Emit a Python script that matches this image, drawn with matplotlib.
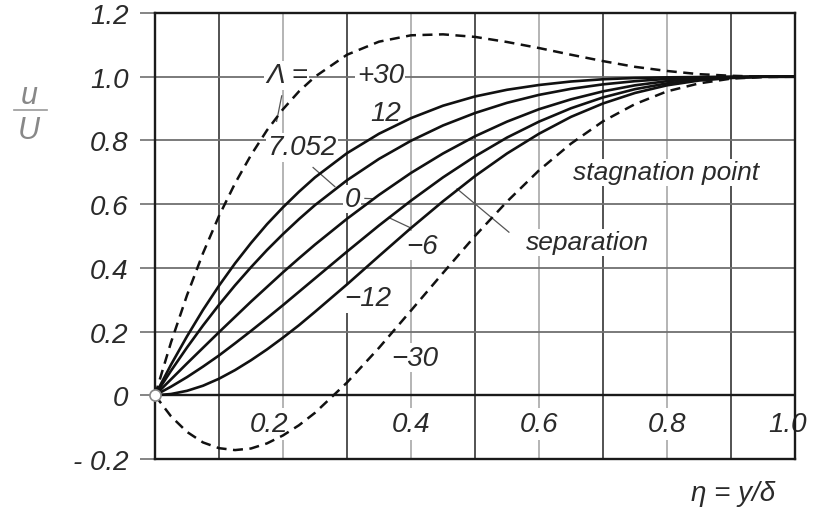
import matplotlib
matplotlib.use('Agg')
import matplotlib.pyplot as plt
from matplotlib.lines import Line2D

plt.rcParams['font.family'] = ['Liberation Sans', 'DejaVu Sans']
plt.rcParams['font.style'] = 'italic'

# eta = y/delta (denser near the wall where the profiles bend most)
eta = [0.000, 0.025, 0.050, 0.075, 0.100, 0.125, 0.150, 0.175, 0.200, 0.225, 0.250,
       0.30, 0.35, 0.40, 0.45, 0.50, 0.55, 0.60, 0.65, 0.70, 0.75, 0.80, 0.85,
       0.90, 0.95, 1.00]

# u/U, one list per Lambda
u_p30 = [0.000, 0.166, 0.314, 0.446, 0.563, 0.665, 0.754, 0.832, 0.898, 0.954, 1.000,
         1.069, 1.110, 1.130, 1.133, 1.125, 1.109, 1.090, 1.069, 1.049, 1.031, 1.018, 1.008,
         1.003, 1.000, 1.000]
u_p12 = [0.000, 0.096, 0.185, 0.268, 0.344, 0.414, 0.478, 0.537, 0.590, 0.639, 0.684,
         0.760, 0.821, 0.870, 0.909, 0.938, 0.959, 0.974, 0.985, 0.992, 0.996, 0.998, 0.999,
         1.000, 1.000, 1.000]
u_p7052 = [0.000, 0.077, 0.150, 0.219, 0.284, 0.345, 0.402, 0.456, 0.506, 0.553, 0.597,
           0.675, 0.742, 0.799, 0.847, 0.886, 0.918, 0.943, 0.962, 0.976, 0.986, 0.993, 0.997,
           0.999, 1.000, 1.000]
u_0 = [0.000, 0.050, 0.100, 0.149, 0.198, 0.246, 0.294, 0.340, 0.386, 0.430, 0.473,
       0.554, 0.629, 0.698, 0.759, 0.813, 0.859, 0.898, 0.929, 0.954, 0.973, 0.986, 0.994,
       0.998, 1.000, 1.000]
u_m6 = [0.000, 0.027, 0.057, 0.090, 0.125, 0.163, 0.202, 0.242, 0.283, 0.325, 0.367,
        0.451, 0.533, 0.611, 0.684, 0.750, 0.809, 0.859, 0.901, 0.935, 0.961, 0.979, 0.991,
        0.997, 1.000, 1.000]
u_m12 = [0.000, 0.004, 0.014, 0.030, 0.052, 0.079, 0.110, 0.144, 0.181, 0.220, 0.262,
         0.348, 0.437, 0.525, 0.609, 0.688, 0.759, 0.821, 0.874, 0.916, 0.949, 0.973, 0.988,
         0.996, 1.000, 1.000]
u_m30 = [0.000, -0.066, -0.115, -0.148, -0.166, -0.172, -0.167, -0.151, -0.126, -0.094, -0.055,
         0.040, 0.149, 0.266, 0.384, 0.500, 0.608, 0.706, 0.790, 0.860, 0.914, 0.954, 0.979,
         0.994, 0.999, 1.000]

solid_curves = [u_p12, u_p7052, u_0, u_m6, u_m12]
dashed_curves = [u_p30, u_m30]

yticks = [-0.2, 0.0, 0.2, 0.4, 0.6, 0.8, 1.0, 1.2]
ytick_labels = ['- 0.2', '0', '0.2', '0.4', '0.6', '0.8', '1.0', '1.2']
xtick_vals = [0.2, 0.4, 0.6, 0.8, 1.0]
xtick_labels = ['0.2', '0.4', '0.6', '0.8', '1.0']

txtc = '#2a2a2a'
fig = plt.figure(figsize=(8.13, 5.10), dpi=100)
ax = fig.add_axes([155/813, 1-460/510, 640/813, 446/510])
ax.set_xlim(0, 1)
ax.set_ylim(-0.2, 1.2)

# grid
for i in range(1, 10):
    x = i / 10
    if i % 2:
        ax.axvline(x, color='#444444', lw=1.3, zorder=1)
    else:
        ax.axvline(x, color='#a0a0a0', lw=1.1, zorder=1)
for y in yticks[2:-1]:
    ax.axhline(y, color='#707070', lw=1.3, zorder=1)
ax.axhline(0, color='#1a1a1a', lw=1.7, zorder=1)
for s in ax.spines.values():
    s.set_color('#1a1a1a')
    s.set_linewidth(1.7)

ax.set_xticks([])
ax.set_yticks(yticks)
ax.set_yticklabels(ytick_labels)
ax.tick_params(axis='y', direction='out', length=11, width=1.2, color='#707070',
               pad=8, labelsize=20, labelcolor=txtc)

# x tick labels sit inside the strip between 0 and -0.2
xoff = {0.2: -0.022, 1.0: -0.011}
for v, lab in zip(xtick_vals, xtick_labels):
    ax.text(v + xoff.get(v, 0), -0.09, lab, ha='center', va='center', fontsize=20,
            color=txtc, zorder=2,
            bbox=dict(boxstyle='square,pad=0.1', fc='white', ec='none'))

# curves
for u in solid_curves:
    ax.plot(eta, u, color='#111111', lw=1.9, zorder=3, solid_capstyle='round')
for u in dashed_curves:
    ax.plot(eta, u, color='#111111', lw=1.8, zorder=3, dashes=(4, 2.6))
ax.plot([0], [0], 'o', ms=8, mfc='white', mec='#888888', mew=1.2, zorder=4, clip_on=False)

# curve labels
box = dict(boxstyle='square,pad=0.05', fc='white', ec='none')
def lab(x, y, s, size=20):
    ax.text(x, y, s, ha='center', va='center', fontsize=size, color=txtc,
            zorder=2.5, bbox=box)

lab(0.206, 1.005, 'Λ =')
lab(0.352, 1.005, '+30')
lab(0.361, 0.886, '12')
lab(0.230, 0.778, '7.052')
lab(0.308, 0.616, '0')
lab(0.418, 0.470, '−6')
lab(0.333, 0.305, '−12')
lab(0.406, 0.118, '−30')
lab(0.798, 0.700, 'stagnation point', 19)
lab(0.675, 0.480, 'separation', 19)

lc = '#555555'
for (x0, y0), (x1, y1) in [((0.198, 0.94), (0.19, 0.86)),
                           ((0.247, 0.715), (0.281, 0.655)),
                           ((0.328, 0.618), (0.340, 0.617)),
                           ((0.365, 0.558), (0.400, 0.525)),
                           ((0.472, 0.648), (0.553, 0.512))]:
    ax.plot([x0, x1], [y0, y1], color=lc, lw=0.9, zorder=2.6)

# axis titles
fig.text(29/813, 1-96/510, 'u', ha='center', va='center', fontsize=22, color='#888888')
fig.text(29/813, 1-131/510, 'U', ha='center', va='center', fontsize=22, color='#888888')
fig.add_artist(Line2D([14/813, 47/813], [1-111/510, 1-111/510], color='#999999', lw=1.2))
fig.text(733/813, 1-494/510, 'η = y/δ', ha='center', va='center', fontsize=20, color=txtc)

fig.savefig('out.png', dpi=100)
